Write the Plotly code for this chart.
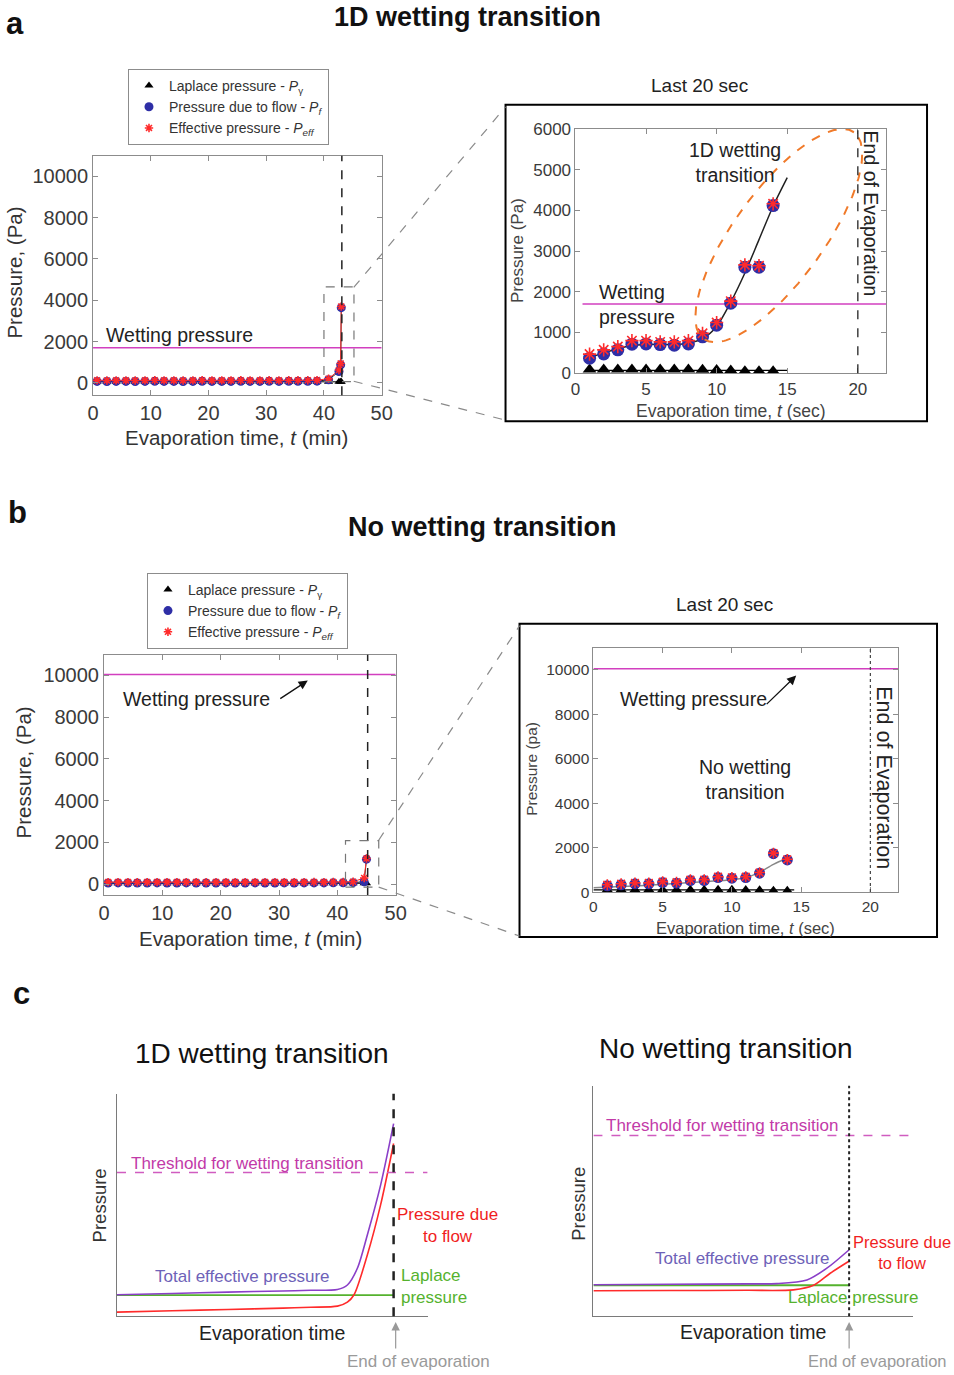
import numpy as np
import plotly.graph_objects as go

# The photographed area is ~970x1391 css px (body margin 8 px) scaled to 954x1375.
REF_W, REF_H = 954, 1375
CAP_W, CAP_H = 970, 1391
OFF = 8
X_SHIFT = 3
W, H = CAP_W - OFF, CAP_H - OFF
FONT = "Liberation Sans, Arial, sans-serif"
MAG = "#d23fbf"
BLUE = "#2e2ea6"
RED = "#ff2b2b"
DARK = "#2a2a2a"
AXC = "#8c8c8c"
ORANGE = "#f07a2a"
PURPLE_LINE = "#8a3fc8"
PURPLE_TXT = "#6e62b8"
THRESH_TXT = "#c23aa8"
GREEN = "#55b22e"
GRAY_TXT = "#9a9a9a"

# ---------------- data: panel a, whole run (min) ----------------
a_main_t = [0.7, 2.4, 4.0, 5.7, 7.3, 9.0, 10.7, 12.3, 14.0, 15.6, 17.3, 18.9,
            20.6, 22.3, 23.9, 25.6, 27.2, 28.9, 30.5, 32.2, 33.9, 35.5, 37.2, 38.8,
            40.8, 42.6, 42.9, 43.0]
a_main_pf = [70, 65, 70, 68, 66, 70, 72, 68, 70, 66, 70, 72, 70, 68, 70, 72, 70, 68,
             72, 70, 74, 72, 76, 80, 150, 550, 870, 3640]
a_main_peff = [120, 115, 120, 118, 116, 120, 122, 118, 120, 116, 120, 122, 120, 118,
               120, 122, 120, 118, 122, 120, 124, 122, 126, 130, 200, 620, 940, 3700]
a_main_pg = [50, 50, 50, 50, 50, 50, 50, 50, 50, 50, 50, 50, 50, 50, 50, 50, 50, 50,
             50, 50, 50, 50, 50, 50, 50, 50, 50, 50]
a_wetting = 1700
a_end_main = 43.1
a_zoom_t = [40.0, 45.2]
a_zoom_p = [60, 4650]

# ---------------- data: panel a, last 20 s ----------------
a_in_t = [1, 2, 3, 4, 5, 6, 7, 8, 9, 10, 11, 12, 13, 14]
a_in_pf = [370, 475, 575, 715, 720, 705, 690, 720, 895, 1180, 1720, 2605, 2605, 4115]
a_in_peff = [470, 575, 655, 800, 800, 770, 770, 800, 980, 1245, 1770, 2660, 2640, 4160]
a_in_pg = [90, 90, 90, 90, 90, 90, 90, 90, 85, 80, 70, 50, 50, 50]
a_fit_t = [1, 2, 3, 4, 5, 6, 7, 8, 9, 10, 11, 12, 13, 14, 15]
a_fit_p = [380, 500, 600, 680, 705, 710, 705, 740, 850, 1150, 1745, 2460, 3280, 4100, 4800]
a_lap_fit_t = [1, 15]
a_lap_fit_p = [70, 70]
a_end_inset = 20
ell_center = (14.4, 3380)   # highlight ellipse centre (s, Pa)

# ---------------- data: panel b, whole run (min) ----------------
b_main_t = [0.7, 2.4, 4.1, 5.7, 7.4, 9.1, 10.8, 12.5, 14.1, 15.8, 17.5, 19.2, 20.9,
            22.5, 24.2, 25.9, 27.6, 29.3, 30.9, 32.6, 34.3, 36.0, 37.7, 39.3, 41.0,
            42.7, 44.6, 45.0]
b_main_pf = [60, 62, 60, 58, 60, 62, 60, 60, 62, 60, 58, 60, 62, 60, 60, 62, 60, 60,
             62, 60, 62, 64, 62, 66, 70, 75, 120, 1200]
b_main_peff = [100, 102, 100, 98, 100, 102, 100, 100, 102, 100, 98, 100, 102, 100,
               100, 102, 100, 100, 102, 100, 102, 104, 102, 106, 110, 120, 300, 1230]
b_main_pg = [45, 45, 45, 45, 45, 45, 45, 45, 45, 45, 45, 45, 45, 45, 45, 45, 45, 45,
             45, 45, 45, 45, 45, 45, 45, 45, 45, 45]
b_wetting = 10050
b_end_main = 45.2
b_zoom_t = [41.4, 47.1]
b_zoom_p = [-140, 2085]

# ---------------- data: panel b, last 20 s ----------------
b_in_t = [1, 2, 3, 4, 5, 6, 7, 8, 9, 10, 11, 12, 13, 14]
b_in_pf = [280, 330, 370, 370, 430, 400, 520, 520, 655, 625, 655, 850, 1730, 1445]
b_in_peff = [330, 375, 415, 415, 470, 445, 560, 560, 690, 665, 690, 880, 1755, 1475]
b_in_pg = [100, 100, 100, 100, 100, 100, 100, 100, 100, 100, 90, 80, 60, 60]
b_fit_t = [0, 2, 4, 6, 8, 10, 11, 12, 13, 14]
b_fit_p = [200, 250, 310, 390, 470, 560, 650, 900, 1250, 1520]
b_lap_fit_t = [0, 14.5]
b_lap_fit_p = [100, 100]
b_end_inset = 20

# ---------------- data: panel c schematics (arbitrary units) ----------------
cl_red_x = [0, 0.2, 0.4, 0.6, 0.7, 0.797, 0.833, 0.857, 0.905, 0.953, 1.0]
cl_red_y = [0.018, 0.024, 0.030, 0.036, 0.040, 0.045, 0.063, 0.096, 0.275, 0.50, 0.776]
cl_pur_x = [0, 0.2, 0.4, 0.6, 0.7, 0.797, 0.833, 0.869, 0.905, 0.953, 1.0]
cl_pur_y = [0.096, 0.102, 0.108, 0.113, 0.116, 0.120, 0.140, 0.215, 0.365, 0.589, 0.865]
cl_lap_x = [0, 1.0]
cl_lap_y = [0.094, 0.094]
cl_thresh = 0.646

cr_red_x = [0, 0.3, 0.6, 0.782, 0.861, 0.926, 0.999]
cr_red_y = [0.110, 0.111, 0.112, 0.114, 0.134, 0.186, 0.238]
cr_pur_x = [0, 0.3, 0.6, 0.717, 0.835, 0.913, 0.999]
cr_pur_y = [0.136, 0.138, 0.140, 0.141, 0.157, 0.208, 0.287]
cr_lap_x = [0, 1.0]
cr_lap_y = [0.134, 0.134]
cr_thresh = 0.784


# ---------------- helpers (picture pixel -> paper fraction) ----------------
def px(x):
    return ((x + X_SHIFT) * CAP_W / REF_W - OFF) / W


def py(y):
    return 1 - (y * CAP_H / REF_H - OFF) / H


def txt(s, x, y, size, color=DARK, xanchor="center", angle=0, bold=False, align="center"):
    if bold:
        s = f"<b>{s}</b>"
    return dict(text=s, x=px(x), y=py(y), xref="paper", yref="paper", showarrow=False,
                xanchor=xanchor, yanchor="middle", textangle=angle, align=align,
                font=dict(family=FONT, size=size, color=color))


# axes pixel boxes (x0, x1, ytop, ybottom) in picture pixels
BOX = {
    1: (92, 381, 155, 395),
    2: (575, 886, 128, 373),
    3: (103, 395, 655, 896),
    4: (593, 898, 648, 893),
    5: (116, 427, 1095, 1318),
    6: (593, 913, 1087, 1318),
}
RANGES = {
    1: ([0, 50], [-600, 11000]),
    2: ([0, 22], [0, 6000]),
    3: ([0, 50], [-520, 11000]),
    4: ([0, 22], [0, 11000]),
    5: ([0, 1.123], [0, 1]),
    6: ([0, 1.25], [0, 1]),
}


def box_axes(i, tickfont, xdt, ytv):
    x0, x1, yt, yb = BOX[i]
    xr, yr = RANGES[i]
    common = dict(showline=True, linecolor=AXC, linewidth=1, mirror="ticks", ticks="inside",
                  ticklen=5, tickcolor=AXC, showgrid=False, zeroline=False,
                  tickfont=dict(family=FONT, size=tickfont, color="#3a3a3a"))
    sfx = "" if i == 1 else str(i)
    xa = dict(domain=[px(x0), px(x1)], range=xr, anchor="y" + sfx, dtick=xdt, **common)
    ya = dict(domain=[py(yb), py(yt)], range=yr, anchor="x" + sfx, tickvals=ytv,
              tickformat="d", **common)
    return xa, ya


def plain_axes(i):
    x0, x1, yt, yb = BOX[i]
    xr, yr = RANGES[i]
    sfx = str(i)
    common = dict(showline=True, linecolor="#7a7a7a", linewidth=1.2, mirror=False,
                  ticks="", showticklabels=False, showgrid=False, zeroline=False)
    xa = dict(domain=[px(x0), px(x1)], range=xr, anchor="y" + sfx, **common)
    ya = dict(domain=[py(yb), py(yt)], range=yr, anchor="x" + sfx, **common)
    return xa, ya


fig = go.Figure()


def add_series(t, pg, pf, peff, xa, ya, legend, msize, show, lines=True):
    if lines:
        fig.add_trace(go.Scatter(x=t, y=pg, mode="lines", line=dict(color="black", width=1),
                                 xaxis=xa, yaxis=ya, showlegend=False, hoverinfo="skip"))
        fig.add_trace(go.Scatter(x=t, y=pf, mode="lines", line=dict(color="#222", width=1),
                                 xaxis=xa, yaxis=ya, showlegend=False, hoverinfo="skip"))
        fig.add_trace(go.Scatter(x=t, y=peff, mode="lines", line=dict(color=RED, width=1),
                                 xaxis=xa, yaxis=ya, showlegend=False, hoverinfo="skip"))
    fig.add_trace(go.Scatter(x=t, y=pg, mode="markers", xaxis=xa, yaxis=ya,
                             name="Laplace pressure - <i>P</i><sub>γ</sub>",
                             marker=dict(symbol="triangle-up", size=msize, color="black"),
                             legend=legend, showlegend=show))
    fig.add_trace(go.Scatter(x=t, y=pf, mode="markers", xaxis=xa, yaxis=ya,
                             name="Pressure due to flow - <i>P</i><sub><i>f</i></sub>",
                             marker=dict(symbol="circle", size=msize + 1, color=BLUE,
                                         line=dict(width=0)),
                             legend=legend, showlegend=show))
    fig.add_trace(go.Scatter(x=t, y=peff, mode="markers", xaxis=xa, yaxis=ya,
                             name="Effective pressure - <i>P</i><sub><i>eff</i></sub>",
                             marker=dict(symbol="asterisk-open", size=msize - 1,
                                         line=dict(color=RED, width=1.6), color=RED),
                             legend=legend, showlegend=show))


# panel a main
add_series(a_main_t, a_main_pg, a_main_pf, a_main_peff, "x", "y", "legend", 8, True)
# panel a inset
fig.add_trace(go.Scatter(x=a_lap_fit_t, y=a_lap_fit_p, mode="lines", xaxis="x2", yaxis="y2",
                         line=dict(color="black", width=1.3), showlegend=False))
fig.add_trace(go.Scatter(x=a_fit_t, y=a_fit_p, mode="lines", xaxis="x2", yaxis="y2",
                         line=dict(color="#222", width=1.5, shape="spline", smoothing=0.8),
                         showlegend=False))
add_series(a_in_t, a_in_pg, a_in_pf, a_in_peff, "x2", "y2", "legend", 12, False, lines=False)

# ellipse highlight (decorative), built in pixel space of inset a
x0, x1, yt, yb = BOX[2]
kx = (x1 - x0) / (RANGES[2][0][1] - RANGES[2][0][0])
ky = (yb - yt) / (RANGES[2][1][1] - RANGES[2][1][0])
phi = np.linspace(0, 2 * np.pi, 240)
a_s, b_s, th = 128, 45, np.deg2rad(54)
u, v = a_s * np.cos(phi), b_s * np.sin(phi)
ex = ell_center[0] + (u * np.cos(th) - v * np.sin(th)) / kx
ey = ell_center[1] + (u * np.sin(th) + v * np.cos(th)) / ky
fig.add_trace(go.Scatter(x=ex, y=ey, mode="lines", xaxis="x2", yaxis="y2",
                         line=dict(color=ORANGE, width=2, dash="dash"), showlegend=False,
                         hoverinfo="skip"))

# panel b main
add_series(b_main_t, b_main_pg, b_main_pf, b_main_peff, "x3", "y3", "legend2", 8, True)
# panel b inset
fig.add_trace(go.Scatter(x=b_lap_fit_t, y=b_lap_fit_p, mode="lines", xaxis="x4", yaxis="y4",
                         line=dict(color="black", width=1.2), showlegend=False))
fig.add_trace(go.Scatter(x=b_fit_t, y=b_fit_p, mode="lines", xaxis="x4", yaxis="y4",
                         line=dict(color="#888", width=1.5, shape="spline", smoothing=0.8),
                         showlegend=False))
add_series(b_in_t, b_in_pg, b_in_pf, b_in_peff, "x4", "y4", "legend2", 10, False, lines=False)

# panel c schematics
for xa, ya, rx, ry, pxs, pys, lx, ly in [
    ("x5", "y5", cl_red_x, cl_red_y, cl_pur_x, cl_pur_y, cl_lap_x, cl_lap_y),
    ("x6", "y6", cr_red_x, cr_red_y, cr_pur_x, cr_pur_y, cr_lap_x, cr_lap_y),
]:
    fig.add_trace(go.Scatter(x=lx, y=ly, mode="lines", xaxis=xa, yaxis=ya,
                             line=dict(color=GREEN, width=1.8), showlegend=False))
    fig.add_trace(go.Scatter(x=rx, y=ry, mode="lines", xaxis=xa, yaxis=ya,
                             line=dict(color=RED, width=1.6, shape="spline", smoothing=0.8),
                             showlegend=False))
    fig.add_trace(go.Scatter(x=pxs, y=pys, mode="lines", xaxis=xa, yaxis=ya,
                             line=dict(color=PURPLE_LINE, width=1.6, shape="spline", smoothing=0.8),
                             showlegend=False))

# ---------------- layout ----------------
layout = dict(width=W, height=H, margin=dict(l=0, r=0, t=0, b=0),
              paper_bgcolor="white", plot_bgcolor="white", showlegend=True,
              font=dict(family=FONT, color=DARK))
for i, tf, xdt, ytv in [(1, 20, 10, list(range(0, 10001, 2000))),
                        (2, 17, 5, list(range(0, 6001, 1000))),
                        (3, 20, 10, list(range(0, 10001, 2000))),
                        (4, 15.5, 5, list(range(0, 10001, 2000)))]:
    xa, ya = box_axes(i, tf, xdt, ytv)
    sfx = "" if i == 1 else str(i)
    layout["xaxis" + sfx] = xa
    layout["yaxis" + sfx] = ya
for i in (5, 6):
    xa, ya = plain_axes(i)
    layout["xaxis" + str(i)] = xa
    layout["yaxis" + str(i)] = ya

leg_common = dict(xanchor="left", yanchor="top", bordercolor="#8c8c8c", borderwidth=1,
                  bgcolor="white", font=dict(family=FONT, size=14, color="#333"),
                  tracegroupgap=0, itemwidth=30)
layout["legend"] = dict(x=px(127), y=py(68), **leg_common)
layout["legend2"] = dict(x=px(146), y=py(573), **leg_common)

shapes = []
# wetting pressure lines
shapes.append(dict(type="line", xref="x", yref="y", x0=0, x1=50, y0=a_wetting, y1=a_wetting,
                   line=dict(color=MAG, width=1.5), layer="below"))
shapes.append(dict(type="line", xref="x2", yref="y2", x0=0.5, x1=22, y0=a_wetting, y1=a_wetting,
                   line=dict(color=MAG, width=1.5), layer="below"))
shapes.append(dict(type="line", xref="x3", yref="y3", x0=0, x1=50, y0=b_wetting, y1=b_wetting,
                   line=dict(color=MAG, width=1.5), layer="below"))
shapes.append(dict(type="line", xref="x4", yref="y4", x0=0, x1=22, y0=b_wetting, y1=b_wetting,
                   line=dict(color=MAG, width=1.5), layer="below"))
# end of evaporation lines
shapes.append(dict(type="line", xref="x", yref="y domain", x0=a_end_main, x1=a_end_main, y0=0, y1=1,
                   line=dict(color="#222", width=1.5, dash="dash")))
shapes.append(dict(type="line", xref="x2", yref="y2 domain", x0=a_end_inset, x1=a_end_inset, y0=0, y1=1,
                   line=dict(color="#222", width=1.3, dash="dash")))
shapes.append(dict(type="line", xref="x3", yref="y3 domain", x0=b_end_main, x1=b_end_main, y0=0, y1=1,
                   line=dict(color="#222", width=1.5, dash="dash")))
shapes.append(dict(type="line", xref="x4", yref="y4 domain", x0=b_end_inset, x1=b_end_inset, y0=0, y1=1,
                   line=dict(color="#444", width=1.2, dash="dot")))
# zoom boxes
shapes.append(dict(type="rect", xref="x", yref="y", x0=a_zoom_t[0], x1=a_zoom_t[1],
                   y0=a_zoom_p[0], y1=a_zoom_p[1], line=dict(color="#777", width=1.2, dash="dash")))
shapes.append(dict(type="rect", xref="x3", yref="y3", x0=b_zoom_t[0], x1=b_zoom_t[1],
                   y0=b_zoom_p[0], y1=b_zoom_p[1], line=dict(color="#777", width=1.2, dash="dash")))
# inset frames
shapes.append(dict(type="rect", xref="paper", yref="paper", x0=px(505), x1=px(927),
                   y0=py(421), y1=py(104), line=dict(color="black", width=2)))
shapes.append(dict(type="rect", xref="paper", yref="paper", x0=px(519), x1=px(937),
                   y0=py(938), y1=py(624), line=dict(color="black", width=2)))
# connectors
for (ax0, ay0, ax1, ay1) in [(353, 287, 505, 106), (353, 381, 505, 420),
                             (378, 841, 519, 626), (378, 888, 519, 937)]:
    shapes.append(dict(type="line", xref="paper", yref="paper", x0=px(ax0), y0=py(ay0),
                       x1=px(ax1), y1=py(ay1), line=dict(color="#8a8a8a", width=1.2, dash="dash")))
# panel c threshold + end lines
shapes.append(dict(type="line", xref="x5", yref="y5", x0=0, x1=1.123, y0=cl_thresh, y1=cl_thresh,
                   line=dict(color="#d05cc0", width=1.5, dash="dash")))
shapes.append(dict(type="line", xref="x6", yref="y6", x0=0, x1=1.25, y0=cr_thresh, y1=cr_thresh,
                   line=dict(color="#d05cc0", width=1.5, dash="dash")))
shapes.append(dict(type="line", xref="x5", yref="y5 domain", x0=1, x1=1, y0=0, y1=1,
                   line=dict(color="#222", width=2.5, dash="dash")))
shapes.append(dict(type="line", xref="x6", yref="y6 domain", x0=1, x1=1, y0=0, y1=1,
                   line=dict(color="#222", width=2, dash="dot")))
layout["shapes"] = shapes

ann = [
    txt("a", 14, 22, 31, "#111", bold=True),
    txt("1D wetting transition", 467, 16, 27, "#111", bold=True),
    txt("Last 20 sec", 699, 85, 19, "#222"),
    txt("Wetting pressure", 103, 335, 19.5, "#222", xanchor="left"),
    txt("Pressure, (Pa)", 13, 272, 20.5, "#333", angle=-90),
    txt("Evaporation time, <i>t</i> (min)", 236, 437, 20.5, "#333"),
    txt("Pressure (Pa)", 517, 250, 17, "#444", angle=-90),
    txt("Evaporation time, <i>t</i> (sec)", 731, 411, 17.5, "#444"),
    txt("1D wetting<br>transition", 735, 162, 19.5, "#222"),
    txt("Wetting<br>pressure", 597, 304, 19.5, "#222", xanchor="left", align="left"),
    txt("End of Evaporation", 871, 213, 19.5, "#222", angle=90),

    txt("b", 16, 513, 31, "#111", bold=True),
    txt("No wetting transition", 481, 527, 27, "#111", bold=True),
    txt("Last 20 sec", 724, 605, 19, "#222"),
    txt("Wetting pressure", 196, 699, 19.5, "#222"),
    txt("Pressure, (Pa)", 22, 773, 20.5, "#333", angle=-90),
    txt("Evaporation time, <i>t</i> (min)", 250, 940, 20.5, "#333"),
    txt("Pressure (pa)", 531, 770, 15.5, "#444", angle=-90),
    txt("Evaporation time, <i>t</i> (sec)", 745, 929, 16.5, "#444"),
    txt("Wetting pressure", 693, 699, 19.5, "#222"),
    txt("No wetting<br>transition", 745, 780, 19.5, "#222"),
    txt("End of Evaporation", 884, 778, 21.5, "#222", angle=90),

    txt("c", 20, 995, 31, "#111", bold=True),
    txt("1D wetting transition", 261, 1055, 28, "#111"),
    txt("No wetting transition", 726, 1050, 28, "#111"),
    txt("Threshold for wetting transition", 128, 1165, 17, THRESH_TXT, xanchor="left"),
    txt("Total effective pressure", 242, 1278, 17, PURPLE_TXT),
    txt("Pressure due<br>to flow", 447, 1227, 17, "#f01e1e"),
    txt("Laplace<br>pressure", 398, 1288, 17, GREEN, xanchor="left", align="left"),
    txt("Evaporation time", 271, 1335, 19.5, "#222"),
    txt("Pressure", 98, 1207, 18.5, "#333", angle=-90),
    txt("End of evaporation", 418, 1363, 17, GRAY_TXT),
    txt("Threshold for wetting transition", 604, 1127, 17, THRESH_TXT, xanchor="left"),
    txt("Total effective pressure", 742, 1260, 17, PURPLE_TXT),
    txt("Pressure due<br>to flow", 851, 1254, 16.5, "#f01e1e", xanchor="left"),
    txt("Laplace pressure", 853, 1299, 17, GREEN),
    txt("Evaporation time", 753, 1334, 19.5, "#222"),
    txt("Pressure", 578, 1205, 18.5, "#333", angle=-90),
    txt("End of evaporation", 806, 1363, 16.5, GRAY_TXT, xanchor="left"),
]
# arrows
for (hx, hy, tx, ty, col, w) in [(307, 681, 278, 700, "#111", 1.3), (796, 676, 765, 706, "#111", 1.3),
                                (395, 1324, 395, 1352, "#999", 1.2), (849, 1324, 849, 1352, "#999", 1.2)]:
    ann.append(dict(x=px(hx), y=py(hy), xref="paper", yref="paper", text="", showarrow=True,
                    axref="pixel", ayref="pixel", ax=tx - hx, ay=ty - hy, arrowhead=2,
                    arrowsize=1.4, arrowwidth=w, arrowcolor=col))
layout["annotations"] = ann

fig.update_layout(**layout)
fig.write_html("out.html")
